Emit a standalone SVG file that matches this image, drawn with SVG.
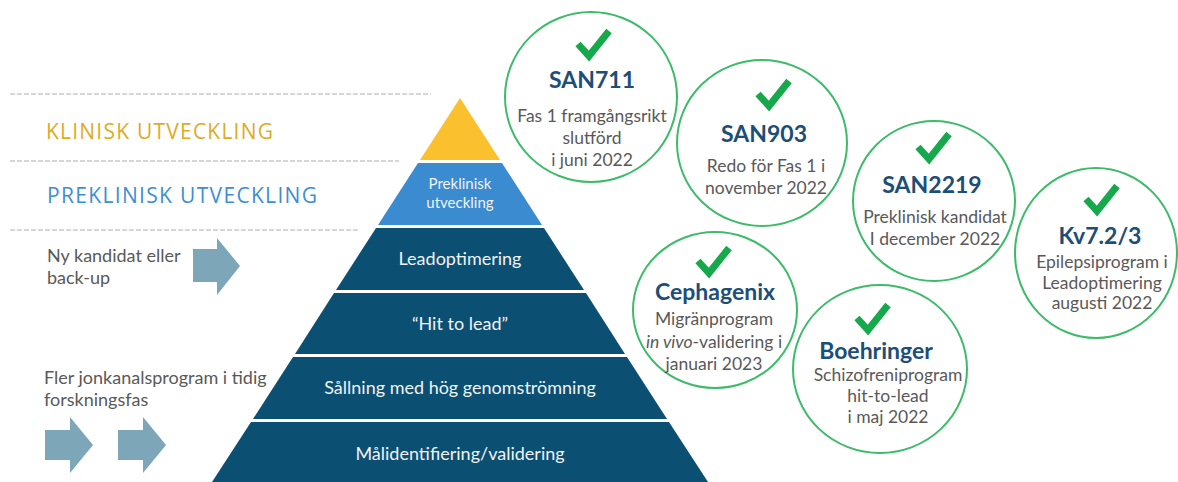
<svg xmlns="http://www.w3.org/2000/svg" width="1178" height="482" viewBox="0 0 1178 482">
<defs>
<style>
.dash{stroke:#c9c9c9;stroke-width:1.5;stroke-dasharray:5 2;fill:none}
.band{fill:#0b4f72}
.pt{font-family:Lato,"Liberation Sans",sans-serif;font-size:18px;fill:#f2f2f2;text-anchor:middle}
.lt{font-family:Lato,"Liberation Sans",sans-serif;font-size:18px;fill:#595959}
.hd{font-family:"Open Sans","Liberation Sans",sans-serif;font-size:21px}
.arr{fill:#7ea6b9}
.ring{fill:#ffffff;stroke:#3dbb6a;stroke-width:2}
.chk{fill:none;stroke:#16a94b;stroke-width:7;stroke-linecap:butt;stroke-linejoin:miter}
.ttl{font-family:Lato,"Liberation Sans",sans-serif;font-size:23px;font-weight:bold;fill:#1c4e78;text-anchor:middle}
.bd{font-family:Lato,"Liberation Sans",sans-serif;font-size:17.5px;fill:#595959;text-anchor:middle}
</style>
<path id="ck" d="M -15 0 L -4 12 L 16 -13"/>
</defs>
<rect width="1178" height="482" fill="#ffffff"/>
<g id="guides">
<line class="dash" x1="10" y1="94" x2="431" y2="94"/>
<line class="dash" x1="10" y1="161" x2="399" y2="161"/>
<line class="dash" x1="10" y1="230" x2="358" y2="230"/>
</g>
<g id="phase-labels">
<text class="hd" x="46" y="139" fill="#e0ab1f" textLength="227" lengthAdjust="spacing">KLINISK UTVECKLING</text>
<text class="hd" x="47" y="203" fill="#3d8fd3" textLength="270" lengthAdjust="spacing">PREKLINISK UTVECKLING</text>
</g>
<g id="left-notes">
<text class="lt" x="47" y="262">Ny kandidat eller</text>
<text class="lt" x="47" y="284">back-up</text>
<text class="lt" x="44" y="384">Fler jonkanalsprogram i tidig</text>
<text class="lt" x="44" y="406">forskningsfas</text>
</g>
<g id="connectors">
<polygon class="arr" points="193,249 217,249 217,238 240,266 217,295 217,282 193,282"/>
<polygon class="arr" points="45,430 70,430 70,417 93,445 70,473 70,460 45,460"/>
<polygon class="arr" points="118,430 143,430 143,417 166,445 143,473 143,460 118,460"/>
</g>
<g id="pyramid">
<g id="tier-klinisk"><polygon points="460,98 500,160 420,160" fill="#fbc02d"/></g>
<g id="tier-preklinisk"><polygon points="418,163 502,163 542,225 378,225" fill="#3a8bcf"/>
<text class="pt" x="460" y="189" style="font-size:15px">Preklinisk</text>
<text class="pt" x="460" y="208" style="font-size:15px">utveckling</text></g>
<g id="tier-lead"><polygon class="band" points="376,228 544,228 584,290 336,290"/>
<text class="pt" x="460" y="265">Leadoptimering</text></g>
<g id="tier-hit"><polygon class="band" points="334,293 586,293 625,354 295,354"/>
<text class="pt" x="460" y="330">“Hit to lead”</text></g>
<g id="tier-screen"><polygon class="band" points="293,357 627,357 667,419 253,419"/>
<text class="pt" x="460" y="394">Sållning med hög genomströmning</text></g>
<g id="tier-target"><polygon class="band" points="251,422 669,422 708,482 212,482"/>
<text class="pt" x="460" y="460">Målidentifiering/validering</text></g>
</g>
<g id="san711">
<ellipse class="ring" cx="591" cy="97" rx="86" ry="85"/>
<use href="#ck" class="chk" transform="translate(593,44)"/>
<text class="ttl" x="592" y="88">SAN711</text>
<text class="bd" x="592" y="122">Fas 1 framgångsrikt</text>
<text class="bd" x="592" y="144">slutförd</text>
<text class="bd" x="592" y="166">i juni 2022</text>
</g>
<g id="san903">
<ellipse class="ring" cx="762" cy="143" rx="85" ry="83"/>
<use href="#ck" class="chk" transform="translate(773,94)"/>
<text class="ttl" x="764" y="142">SAN903</text>
<text class="bd" x="766" y="172">Redo för Fas 1 i</text>
<text class="bd" x="766" y="194">november 2022</text>
</g>
<g id="san2219">
<ellipse class="ring" cx="934" cy="201" rx="81" ry="80"/>
<use href="#ck" class="chk" transform="translate(933,147)"/>
<text class="ttl" x="932" y="193">SAN2219</text>
<text class="bd" x="935" y="223">Preklinisk kandidat</text>
<text class="bd" x="935" y="245">I december 2022</text>
</g>
<g id="kv723">
<ellipse class="ring" cx="1096" cy="253" rx="81" ry="85"/>
<use href="#ck" class="chk" transform="translate(1101,199)"/>
<text class="ttl" x="1100" y="244">Kv7.2/3</text>
<text class="bd" x="1102" y="268">Epilepsiprogram i</text>
<text class="bd" x="1102" y="289">Leadoptimering</text>
<text class="bd" x="1102" y="309">augusti 2022</text>
</g>
<g id="cephagenix">
<ellipse class="ring" cx="715" cy="310" rx="82" ry="78"/>
<use href="#ck" class="chk" transform="translate(713,261)"/>
<text class="ttl" x="715" y="300">Cephagenix</text>
<text class="bd" x="714" y="325">Migränprogram</text>
<text class="bd" x="714" y="348"><tspan font-style="italic">in vivo</tspan>-validering i</text>
<text class="bd" x="714" y="370">januari 2023</text>
</g>
<g id="boehringer">
<ellipse class="ring" cx="880" cy="369" rx="87" ry="84"/>
<use href="#ck" class="chk" transform="translate(872,318)"/>
<text class="ttl" x="876" y="359">Boehringer</text>
<text class="bd" x="888" y="381">Schizofreniprogram</text>
<text class="bd" x="888" y="402">hit-to-lead</text>
<text class="bd" x="888" y="423">i maj 2022</text>
</g>
</svg>
